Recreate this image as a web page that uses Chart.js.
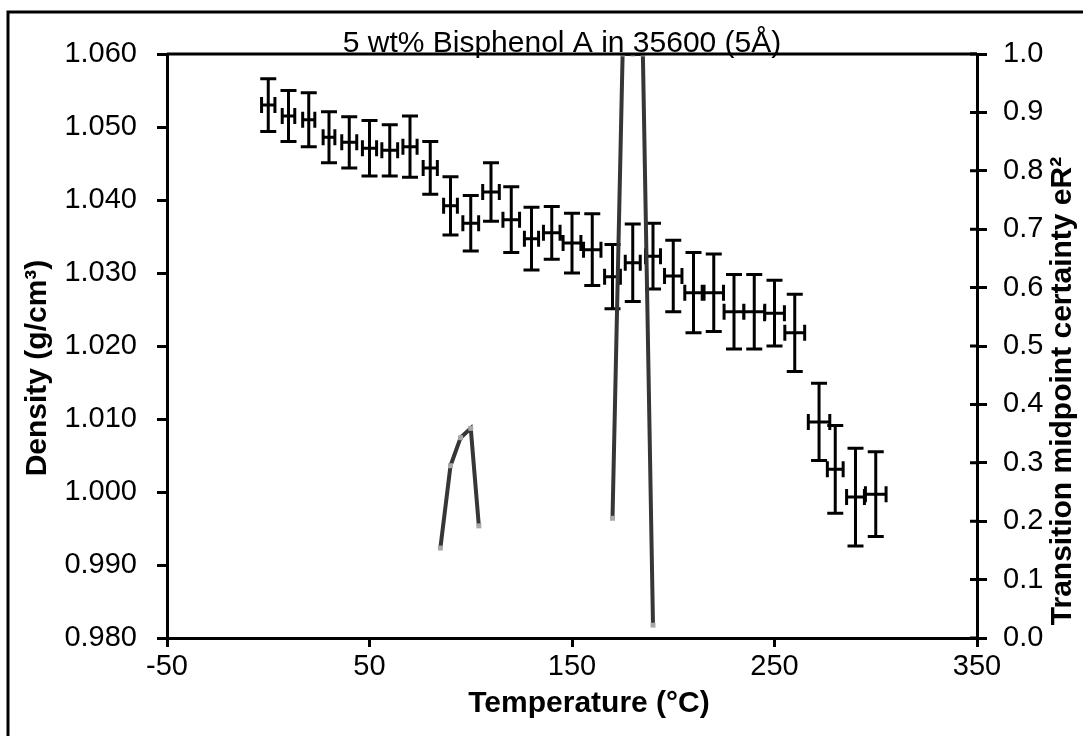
<!DOCTYPE html>
<html lang="en">
<head>
  <meta charset="UTF-8" />
  <title>5 wt% Bisphenol A in 35600 (5Å)</title>
  <script src="https://cdn.jsdelivr.net/npm/chart.js"></script>
  <style>
    body { margin: 0; background: #fff; }
    canvas { display: block; }
  </style>
</head>
<body>
  <canvas id="densityChart" width="1083" height="736"></canvas>

  <script>
    // density vs temperature, with error bars in both directions
    const temps = [0, 10, 20, 30, 40, 50, 60, 70, 80, 90, 100, 110, 120, 130, 140, 150,
                   160, 170, 180, 190, 200, 210, 220, 230, 240, 250, 260, 272, 280, 290, 300];
    const density = [1.0530, 1.0515, 1.0510, 1.0486, 1.0479, 1.0471, 1.0468, 1.0473, 1.0444, 1.0392,
                     1.0368, 1.0411, 1.0373, 1.0347, 1.0355, 1.0341, 1.0332, 1.0295, 1.0314, 1.0323,
                     1.0296, 1.0273, 1.0273, 1.0247, 1.0247, 1.0245, 1.0218, 1.0096, 1.0031, 0.9993, 0.9997];
    const densityErr = [0.0036, 0.0035, 0.0037, 0.0035, 0.0035, 0.0038, 0.0035, 0.0042, 0.0036, 0.0040,
                        0.0038, 0.0040, 0.0045, 0.0043, 0.0036, 0.0041, 0.0049, 0.0044, 0.0053, 0.0045,
                        0.0049, 0.0055, 0.0053, 0.0051, 0.0051, 0.0045, 0.0053, 0.0053, 0.0060, 0.0067, 0.0058];
    const tempErr = [3.3, 3.1, 3.0, 2.9, 3.7, 3.5, 3.9, 3.5, 3.5, 3.4, 3.9, 4.1, 4.1, 3.5, 4.1, 4.4,
                     4.3, 3.9, 3.7, 3.7, 4.3, 4.3, 4.8, 4.9, 5.2, 4.9, 4.9, 5.3, 3.9, 4.4, 5.1];

    // transition midpoint certainty (right axis), two separate runs
    const certTempsA = [85, 90, 95, 100, 104];
    const certA = [0.154, 0.295, 0.343, 0.359, 0.192];
    const certTempsB = [170, 175, 180, 185, 190];
    const certB = [0.205, 1.0, 1.0, 1.0, 0.022];

    const chartTitle = '5 wt% Bisphenol A in 35600 (5Å)';
    const xTitle = 'Temperature (°C)';
    const yTitle = 'Density (g/cm³)';
    const y2Title = 'Transition midpoint certainty eR²';

    const FONT = '"Liberation Sans", Arial, sans-serif';
    const toPoints = (xs, ys) => xs.map((x, i) => ({ x: x, y: ys[i] }));

    const decorations = {
      id: 'decorations',
      beforeDatasetsDraw(chart) {
        const { ctx, scales: { x, y } } = chart;
        const cap = 8;
        ctx.save();
        ctx.strokeStyle = '#000';
        ctx.lineWidth = 3;
        ctx.beginPath();
        temps.forEach((t, i) => {
          const px = x.getPixelForValue(t);
          const py = y.getPixelForValue(density[i]);
          const top = y.getPixelForValue(density[i] + densityErr[i]);
          const bot = y.getPixelForValue(density[i] - densityErr[i]);
          const lft = x.getPixelForValue(t - tempErr[i]);
          const rgt = x.getPixelForValue(t + tempErr[i]);
          ctx.moveTo(px, top); ctx.lineTo(px, bot);
          ctx.moveTo(px - cap, top); ctx.lineTo(px + cap, top);
          ctx.moveTo(px - cap, bot); ctx.lineTo(px + cap, bot);
          ctx.moveTo(lft, py); ctx.lineTo(rgt, py);
          ctx.moveTo(lft, py - cap); ctx.lineTo(lft, py + cap);
          ctx.moveTo(rgt, py - cap); ctx.lineTo(rgt, py + cap);
        });
        ctx.stroke();
        ctx.restore();
      },
      afterDraw(chart) {
        const { ctx, chartArea: a, scales: { y2 } } = chart;
        ctx.save();
        ctx.strokeStyle = '#000';
        // outer frame (only top and left edges fall inside the picture)
        ctx.lineWidth = 3;
        ctx.beginPath();
        ctx.moveTo(8, 740); ctx.lineTo(8, 12); ctx.lineTo(1090, 12);
        ctx.stroke();
        // top edge of the plot box
        ctx.beginPath();
        ctx.moveTo(a.left, a.top); ctx.lineTo(a.right, a.top);
        ctx.stroke();
        // right axis ticks cross the axis
        ctx.beginPath();
        y2.ticks.forEach(t => {
          const py = y2.getPixelForValue(t.value);
          ctx.moveTo(a.right - 7, py); ctx.lineTo(a.right, py);
        });
        ctx.stroke();

        ctx.fillStyle = '#000';
        ctx.textAlign = 'center';
        ctx.font = '30px ' + FONT;
        ctx.textBaseline = 'alphabetic';
        ctx.fillText(chartTitle, 562, 52);

        ctx.font = 'bold 30px ' + FONT;
        ctx.fillText(xTitle, 589, 712);

        ctx.textBaseline = 'middle';
        ctx.save();
        ctx.translate(38, 368);
        ctx.rotate(-Math.PI / 2);
        ctx.fillText(yTitle, 0, 0);
        ctx.restore();

        ctx.save();
        ctx.translate(1063, 391);
        ctx.rotate(-Math.PI / 2);
        ctx.fillText(y2Title, 0, 0);
        ctx.restore();
        ctx.restore();
      }
    };

    const tickFont = { family: FONT, size: 29 };

    new Chart(document.getElementById('densityChart').getContext('2d'), {
      type: 'scatter',
      data: {
        datasets: [
          {
            label: 'Density',
            data: toPoints(temps, density),
            yAxisID: 'y',
            pointRadius: 0,
            showLine: false
          },
          {
            label: 'eR² (a)',
            data: toPoints(certTempsA, certA),
            yAxisID: 'y2',
            showLine: true,
            borderColor: '#363636',
            borderWidth: 4,
            pointStyle: 'rect',
            pointRadius: 3.5,
            pointBackgroundColor: '#a8a8a8',
            pointBorderWidth: 0
          },
          {
            label: 'eR² (b)',
            data: toPoints(certTempsB, certB),
            yAxisID: 'y2',
            showLine: true,
            borderColor: '#363636',
            borderWidth: 4,
            pointStyle: 'rect',
            pointRadius: 3.5,
            pointBackgroundColor: '#a8a8a8',
            pointBorderWidth: 0
          }
        ]
      },
      options: {
        responsive: false,
        animation: false,
        devicePixelRatio: 1,
        layout: { padding: { top: 54, left: 0, right: 0, bottom: 0 } },
        plugins: {
          legend: { display: false },
          tooltip: { enabled: false }
        },
        scales: {
          x: {
            type: 'linear',
            min: -50,
            max: 350,
            afterFit: s => { s.height = 98; },
            ticks: { stepSize: 100, color: '#000', font: tickFont, padding: 3, maxRotation: 0 },
            grid: { drawOnChartArea: false, drawTicks: true, tickLength: 9, color: '#000', lineWidth: 3 },
            border: { display: true, color: '#000', width: 3 }
          },
          y: {
            position: 'left',
            min: 0.98,
            max: 1.06,
            afterFit: s => { s.width = 167; },
            ticks: { stepSize: 0.01, color: '#000', font: tickFont, padding: 20,
                     callback: v => v.toFixed(3) },
            grid: { drawOnChartArea: false, drawTicks: true, tickLength: 10, color: '#000', lineWidth: 3 },
            border: { display: true, color: '#000', width: 3 }
          },
          y2: {
            position: 'right',
            min: 0,
            max: 1,
            afterFit: s => { s.width = 106; },
            ticks: { stepSize: 0.1, color: '#000', font: tickFont, padding: 16,
                     callback: v => v.toFixed(1) },
            grid: { drawOnChartArea: false, drawTicks: true, tickLength: 10, color: '#000', lineWidth: 3 },
            border: { display: true, color: '#000', width: 3 }
          }
        }
      },
      plugins: [decorations]
    });
  </script>
</body>
</html>
